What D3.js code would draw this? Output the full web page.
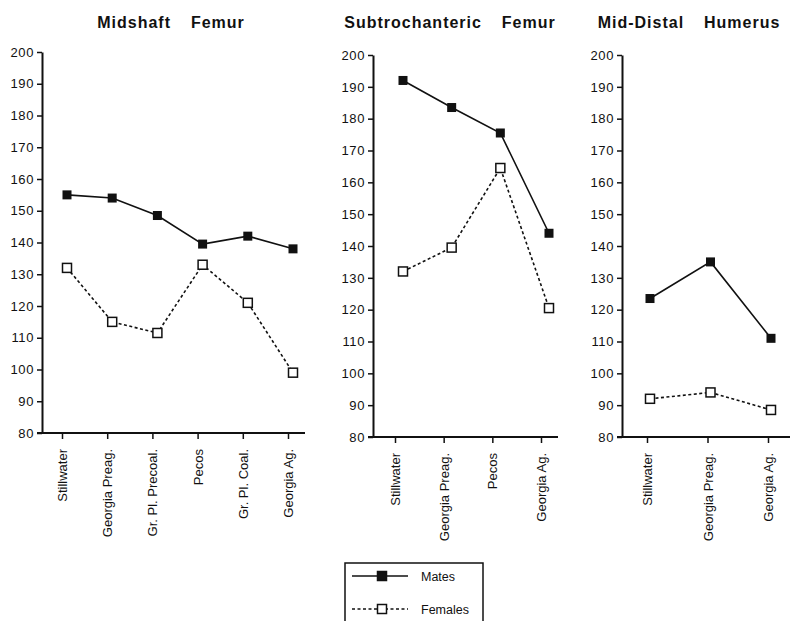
<!DOCTYPE html>
<html><head><meta charset="utf-8">
<script src="https://cdn.jsdelivr.net/npm/d3@7"></script>
<style>
html,body{margin:0;padding:0;background:#fff;}
svg{display:block;}
text{font-family:"Liberation Sans",Arial,sans-serif;fill:#111;}
</style></head><body>
<svg id="c" width="794" height="621"></svg>
<script>
// ---- data ----
const titles = ["Midshaft  Femur", "Subtrochanteric  Femur", "Mid-Distal  Humerus"];
const cats1 = ["Stillwater","Georgia Preag.","Gr. Pl. Precoal.","Pecos","Gr. Pl. Coal.","Georgia Ag."];
const males1 = [155, 154, 148.5, 139.5, 142, 138];
const females1 = [132, 115, 111.5, 133, 121, 99];
const cats2 = ["Stillwater","Georgia Preag.","Pecos","Georgia Ag."];
const males2 = [192, 183.5, 175.5, 144];
const females2 = [132, 139.5, 164.5, 120.5];
const cats3 = ["Stillwater","Georgia Preag.","Georgia Ag."];
const males3 = [123.5, 135, 111];
const females3 = [92, 94, 88.5];
const yTicks = [80, 90, 100, 110, 120, 130, 140, 150, 160, 170, 180, 190, 200];
const seriesNames = ["Mates", "Females"];

// ---- layout ----
const panels = [
  {title: titles[0], cats: cats1, m: males1, f: females1, ax: 42, yTop: 52, yBot: 433, x0: 67, x1: 293, xEnd: 305, shift: -5, tx: 171},
  {title: titles[1], cats: cats2, m: males2, f: females2, ax: 373, yTop: 55, yBot: 437, x0: 403, x1: 549, xEnd: 558, shift: -8, tx: 450},
  {title: titles[2], cats: cats3, m: males3, f: females3, ax: 622, yTop: 55, yBot: 437, x0: 650, x1: 771, xEnd: 790, shift: -3, tx: 689}
];

const svg = d3.select("#c");

panels.forEach(p => {
  const g = svg.append("g");
  const y = d3.scaleLinear().domain([80, 200]).range([p.yBot, p.yTop]);
  const x = d3.scalePoint().domain(p.cats).range([p.x0, p.x1]);

  // title
  g.append("text").attr("x", p.tx).attr("y", 28).attr("text-anchor", "middle")
    .style("white-space", "pre").attr("font-size", 16).attr("font-weight", "bold")
    .attr("letter-spacing", 1).attr("word-spacing", 4.5).text(p.title);

  // y axis
  const ya = g.append("g").attr("transform", `translate(${p.ax},0)`)
    .call(d3.axisLeft(y).tickValues(yTicks).tickSize(5).tickSizeOuter(0).tickPadding(3));
  ya.select(".domain").attr("stroke", "#111").attr("stroke-width", 2);
  ya.selectAll(".tick line").attr("stroke", "#111").attr("stroke-width", 1.5);
  ya.selectAll("text").attr("font-size", 13).attr("letter-spacing", 0.6)
    .attr("font-family", "'Liberation Sans',Arial,sans-serif").attr("fill", "#111");

  // x axis
  const xa = g.append("g").attr("transform", `translate(${p.shift},${p.yBot})`)
    .call(d3.axisBottom(x).tickSize(6).tickSizeOuter(0));
  xa.select(".domain").remove();
  xa.selectAll(".tick line").attr("stroke", "#111").attr("stroke-width", 1.5);
  xa.selectAll("text").attr("font-size", 13).attr("font-family", "'Liberation Sans',Arial,sans-serif")
    .attr("fill", "#111")
    .attr("transform", "rotate(-90)").attr("text-anchor", "end")
    .attr("x", -16).attr("y", 0).attr("dy", "0.35em");
  g.append("line").attr("x1", p.ax - 5).attr("x2", p.xEnd).attr("y1", p.yBot).attr("y2", p.yBot)
    .attr("stroke", "#111").attr("stroke-width", 2);

  const line = d3.line().x((d, i) => x(p.cats[i])).y(d => y(d));
  g.append("path").datum(p.m).attr("d", line).attr("fill", "none").attr("stroke", "#111").attr("stroke-width", 1.6);
  g.append("path").datum(p.f).attr("d", line).attr("fill", "none").attr("stroke", "#111")
    .attr("stroke-width", 1.6).attr("stroke-dasharray", "3,2.5");

  const s = 9;
  g.selectAll(".mk").data(p.m).enter().append("rect")
    .attr("x", (d, i) => x(p.cats[i]) - s / 2).attr("y", d => y(d) - s / 2)
    .attr("width", s).attr("height", s).attr("fill", "#111");
  g.selectAll(".fk").data(p.f).enter().append("rect")
    .attr("x", (d, i) => x(p.cats[i]) - s / 2).attr("y", d => y(d) - s / 2)
    .attr("width", s).attr("height", s).attr("fill", "#fff").attr("stroke", "#111").attr("stroke-width", 1.5);
});

// legend
const lg = svg.append("g");
lg.append("rect").attr("x", 345).attr("y", 563).attr("width", 138).attr("height", 70)
  .attr("fill", "none").attr("stroke", "#111").attr("stroke-width", 1.5);
const rows = [{y: 576, dash: null, fill: "#111"}, {y: 609, dash: "3,2.5", fill: "#fff"}];
rows.forEach((r, i) => {
  lg.append("line").attr("x1", 352).attr("x2", 408).attr("y1", r.y).attr("y2", r.y)
    .attr("stroke", "#111").attr("stroke-width", 1.6).attr("stroke-dasharray", r.dash);
  lg.append("rect").attr("x", 382 - 4.5).attr("y", r.y - 4.5).attr("width", 9).attr("height", 9)
    .attr("fill", r.fill).attr("stroke", "#111").attr("stroke-width", 1.5);
  lg.append("text").attr("x", 421).attr("y", r.y + 4.5).attr("font-size", 12.5).text(seriesNames[i]);
});
</script>
</body></html>
